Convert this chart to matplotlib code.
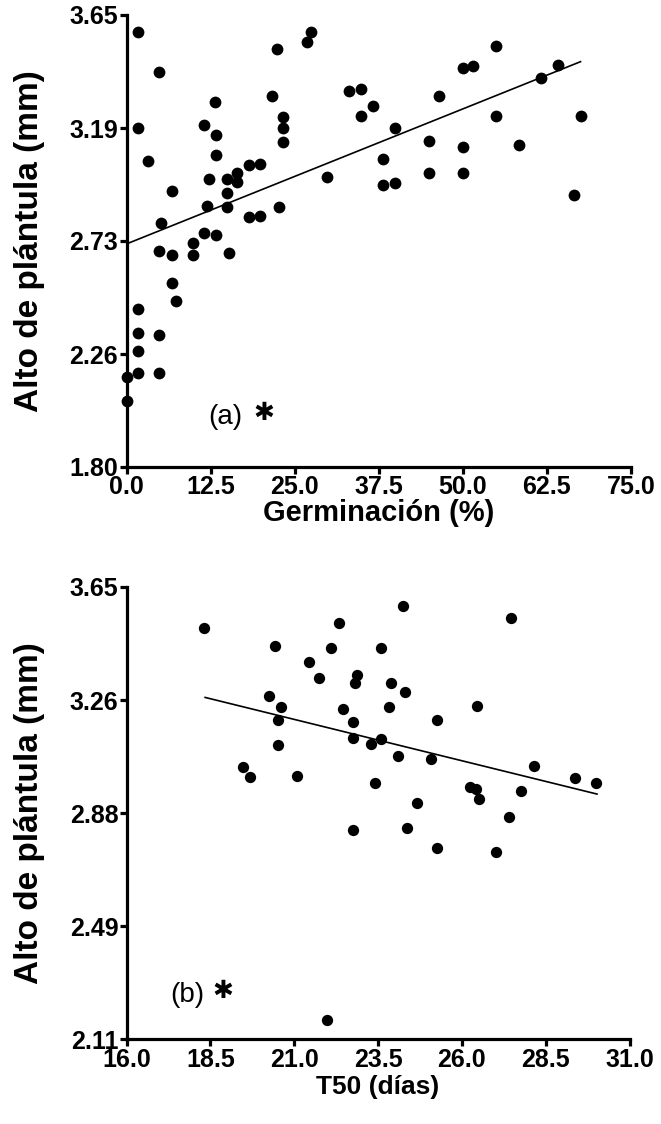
import matplotlib
matplotlib.use("Agg")
import matplotlib.pyplot as plt
import numpy as np

plt.rcParams['font.family'] = ['Liberation Sans', 'DejaVu Sans']

# ---- Panel (a): Germinación (%) vs Alto de plántula (mm)
germ_x = [1.7, 4.9, 27.4, 26.9, 22.4, 13.2, 21.6, 33.1, 34.9, 36.7, 34.9, 1.7, 11.5, 13.3,
          23.3, 23.3, 23.3, 39.9, 3.2, 13.3, 12.3, 15.0, 16.5, 16.5, 18.2, 19.8, 29.8, 38.2,
          38.2, 39.9, 6.7, 15.0, 12.0, 15.0, 22.7, 18.2, 19.8, 5.2, 11.5, 13.3, 9.9, 4.9,
          6.7, 9.9, 15.3, 6.7, 7.4, 1.7, 1.7, 4.9, 1.7, 0.0, 1.7, 4.9, 0.0,
          55.0, 50.0, 51.5, 64.2, 61.6, 46.5, 55.0, 67.5, 45.0, 50.0, 58.3, 45.0, 50.0, 66.6]
germ_y = [3.580, 3.418, 3.580, 3.540, 3.510, 3.295, 3.320, 3.339, 3.346, 3.279, 3.238, 3.189,
          3.199, 3.158, 3.231, 3.189, 3.131, 3.189, 3.051, 3.076, 2.977, 2.977, 3.005, 2.968,
          3.035, 3.041, 2.986, 3.059, 2.953, 2.961, 2.930, 2.921, 2.869, 2.863, 2.863, 2.822,
          2.828, 2.797, 2.756, 2.751, 2.715, 2.683, 2.668, 2.668, 2.674, 2.553, 2.479, 2.445,
          2.347, 2.339, 2.275, 2.170, 2.183, 2.183, 2.070,
          3.524, 3.434, 3.443, 3.444, 3.393, 3.320, 3.238, 3.238, 3.133, 3.108, 3.117, 3.002,
          3.002, 2.912]
germ_fit_x = [0.0, 67.5]
germ_fit_y = [2.713, 3.459]
germ_xticklabels = ["0.0", "12.5", "25.0", "37.5", "50.0", "62.5", "75.0"]
germ_yticklabels = ["1.80", "2.26", "2.73", "3.19", "3.65"]

# ---- Panel (b): T50 (días) vs Alto de plántula (mm)
t50_x = [18.30, 20.42, 22.33, 22.09, 23.58, 21.45, 21.74, 22.87, 22.81, 23.88, 24.23, 20.26,
         20.61, 20.50, 22.45, 23.82, 22.76, 22.76, 23.29, 23.58, 24.10, 20.50, 19.48, 19.67,
         21.09, 23.41, 27.45, 24.30, 26.44, 25.25, 25.07, 28.16, 29.36, 30.01, 26.24, 26.42,
         26.51, 27.76, 24.67, 27.40, 22.76, 24.36, 25.25, 27.03, 21.98]
t50_y = [3.511, 3.449, 3.526, 3.442, 3.442, 3.395, 3.341, 3.350, 3.322, 3.322, 3.586, 3.279,
         3.240, 3.197, 3.233, 3.240, 3.191, 3.137, 3.117, 3.131, 3.075, 3.111, 3.036, 3.002,
         3.007, 2.981, 3.545, 3.293, 3.246, 3.198, 3.063, 3.041, 3.000, 2.981, 2.968, 2.961,
         2.927, 2.954, 2.913, 2.867, 2.824, 2.830, 2.762, 2.749, 2.177]
t50_fit_x = [18.34, 30.03]
t50_fit_y = [3.274, 2.945]
t50_xticklabels = ["16.0", "18.5", "21.0", "23.5", "26.0", "28.5", "31.0"]
t50_yticklabels = ["2.11", "2.49", "2.88", "3.26", "3.65"]

W, H = 661, 1124
fig = plt.figure(figsize=(W / 100, H / 100), dpi=100)

def px_axes(left, right, top, bottom):
    return fig.add_axes([left / W, 1 - bottom / H, (right - left) / W, (bottom - top) / H])

ax1 = px_axes(126.5, 631, 15, 467)
ax2 = px_axes(126.7, 629.5, 587, 1039.3)

TICK_FS = 18
YLABEL_FS = 24

def style(ax, xlim, ylim, xlabels, ylabels, xlabel, xlabel_fs, wpx, xlab_y):
    ax.set_xlim(*xlim)
    ax.set_ylim(*ylim)
    ax.set_xticks(np.linspace(xlim[0], xlim[1], len(xlabels)))
    ax.set_xticklabels(xlabels, fontsize=TICK_FS, fontweight='bold')
    ax.set_yticks(np.linspace(ylim[0], ylim[1], len(ylabels)))
    ax.set_yticklabels(ylabels, fontsize=TICK_FS, fontweight='bold')
    for s in ('top', 'right'):
        ax.spines[s].set_visible(False)
    for s in ('left', 'bottom'):
        ax.spines[s].set_linewidth(2.3)
    ax.tick_params(direction='out', length=5, width=2.3, pad=1)
    ax.set_xlabel(xlabel, fontsize=xlabel_fs, fontweight='bold')
    ax.set_ylabel("Alto de plántula (mm)", fontsize=YLABEL_FS, fontweight='bold')
    ax.yaxis.set_label_coords(-81.5 / wpx, 0.5)
    ax.xaxis.set_label_coords(0.5, xlab_y)

ax1.scatter(germ_x, germ_y, s=72, color='black', zorder=3, clip_on=False, linewidths=0)
ax1.plot(germ_fit_x, germ_fit_y, color='black', lw=1.2)
style(ax1, (0, 75), (1.80, 3.65), germ_xticklabels, germ_yticklabels,
      "Germinación (%)", 21, 504.5, -0.070)
ax1.text(12.1, 2.004, "(a)", fontsize=20, va='center', ha='left')
ax1.text(18.8, 2.02, "✱", fontsize=18, va='center', ha='left', family='DejaVu Sans', fontweight='bold')

ax2.scatter(t50_x, t50_y, s=66, color='black', zorder=3, clip_on=False, linewidths=0)
ax2.plot(t50_fit_x, t50_fit_y, color='black', lw=1.2)
style(ax2, (16, 31), (2.11, 3.65), t50_xticklabels, t50_yticklabels,
      "T50 (días)", 19, 502.8, -0.078)
ax2.text(17.29, 2.26, "(b)", fontsize=20, va='center', ha='left')
ax2.text(18.55, 2.275, "✱", fontsize=18, va='center', ha='left', family='DejaVu Sans', fontweight='bold')

fig.savefig("out.png", dpi=100)
